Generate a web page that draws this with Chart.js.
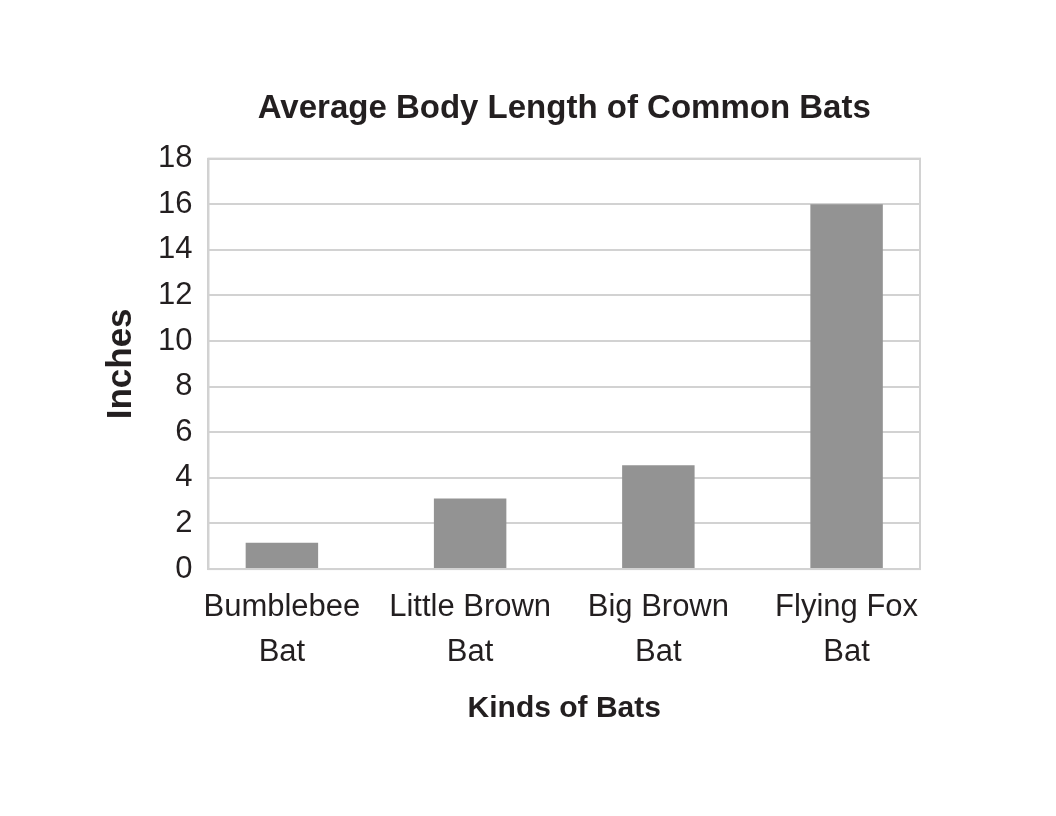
<!DOCTYPE html>
<html>
<head>
<meta charset="utf-8">
<script src="https://cdn.jsdelivr.net/npm/chart.js@4.4.1/dist/chart.umd.min.js"></script>
<style>
html,body{margin:0;padding:0;background:#fff;}
#wrap{width:1056px;height:816px;}
</style>
</head>
<body>
<div id="wrap"><canvas id="c" width="1056" height="816"></canvas></div>
<script>
const categories = [["Bumblebee","Bat"],["Little Brown","Bat"],["Big Brown","Bat"],["Flying Fox","Bat"]];
const lengths = [1.15, 3.1, 4.55, 16];
const yTicks = [0,2,4,6,8,10,12,14,16,18];
const titleText = "Average Body Length of Common Bats";
const xTitle = "Kinds of Bats";
const yTitle = "Inches";

const FONT = "'Liberation Sans', Arial, sans-serif";
const GRID = '#d2d2d2';
const TXT = '#231f20';

const boxPlugin = {
  id:'box',
  afterDatasetsDraw(chart){
    const a = chart.chartArea, ctx = chart.ctx;
    ctx.save();
    ctx.strokeStyle = GRID;
    ctx.lineWidth = 2;
    ctx.strokeRect(a.left, a.top, a.right-a.left, a.bottom-a.top);
    ctx.restore();
  }
};

new Chart(document.getElementById('c'), {
  type:'bar',
  data:{
    datasets:[{
      data: lengths.map((v,i)=>({x:i,y:v})),
      backgroundColor:'#939393',
      borderWidth:0,
      categoryPercentage:1,
      barPercentage:0.385,
      xAxisID:'x',
      yAxisID:'y'
    }]
  },
  options:{
    responsive:false,
    animation:false,
    devicePixelRatio:1,
    layout:{padding:{left:0,right:136,top:0,bottom:89}},
    plugins:{
      legend:{display:false},
      tooltip:{enabled:false},
      title:{display:false}
    },
    scales:{
      x:{
        type:'linear',
        offset:false,
        min:-0.39,
        max:3.39,
        afterBuildTicks(scale){ scale.ticks = categories.map((c,i)=>({value:i})); },
        grid:{display:false,drawTicks:false},
        border:{display:true,color:GRID,width:2},
        ticks:{
          color:TXT,
          font:{family:FONT,size:31,lineHeight:1.45},
          padding:16,
          maxRotation:0,
          autoSkip:false,
          callback:(v)=>categories[v]
        },
        title:{
          display:true,
          text:xTitle,
          color:TXT,
          font:{family:FONT,size:30,weight:'bold',lineHeight:1.2},
          padding:{top:0,bottom:0}
        }
      },
      top:{
        type:'linear',
        position:'top',
        min:0,
        max:1,
        grid:{display:false,drawTicks:false},
        border:{display:false},
        ticks:{display:false},
        title:{
          display:true,
          text:titleText,
          color:TXT,
          font:{family:FONT,size:33,weight:'bold',lineHeight:1.2},
          padding:{top:89,bottom:30}
        }
      },
      y:{
        min:0,
        max:18,
        afterBuildTicks(scale){ scale.ticks = yTicks.map(v=>({value:v})); },
        grid:{color:GRID,lineWidth:2,drawTicks:false},
        border:{display:true,color:GRID,width:2},
        ticks:{
          color:TXT,
          font:{family:FONT,size:31},
          padding:16
        },
        title:{
          display:true,
          text:yTitle,
          color:TXT,
          font:{family:FONT,size:35,weight:'bold',lineHeight:1.2},
          padding:{top:100,bottom:0}
        }
      }
    }
  },
  plugins:[boxPlugin]
});
</script>
</body>
</html>
